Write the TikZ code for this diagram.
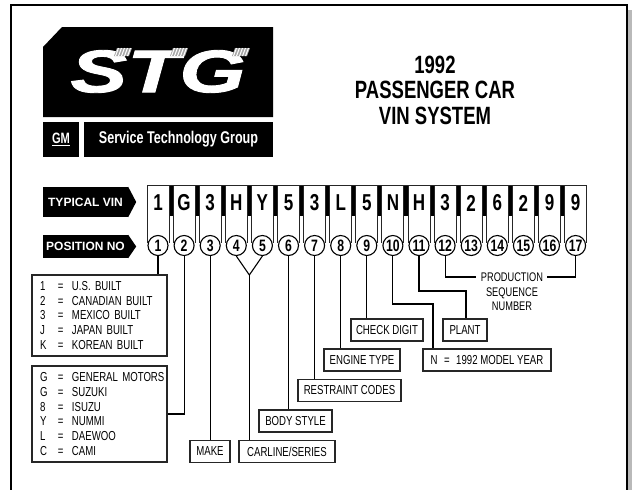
\documentclass[tikz,border=0pt]{standalone}
\usepackage{fontspec}
\setmainfont{Liberation Sans}
\newfontfamily\cond{Liberation Sans}[FakeStretch=0.74]
\newfontfamily\stgfont{Liberation Sans}[FakeStretch=1.42,FakeBold=1.5]
\begin{document}
\begin{tikzpicture}[x=1pt,y=-1pt,
  keyline/.style={line width=1pt,black!85},
  conn/.style={line width=1.1pt,black},
  vinchar/.style={inner sep=0pt,font=\cond\bfseries\fontsize{23}{23}\selectfont},
  posc/.style={circle,draw,line width=1.1pt,fill=white,minimum size=20pt,inner sep=0pt,
    font=\cond\bfseries\fontsize{16.5}{16.5}\selectfont},
  lbox/.style={draw,line width=1.2pt,black!85,text=black,inner sep=0pt,minimum height=22pt,
    font=\cond\fontsize{13}{13}\selectfont},
  listbox/.style={draw,line width=1.2pt,black!85,text=black,inner xsep=8pt,inner ysep=0pt,
    text width=119pt,align=left,font=\cond\fontsize{13}{14.8}\selectfont},
  arrlbl/.style={fill=black,text=white,inner sep=0pt,minimum width=85pt,
    font=\bfseries\fontsize{12}{12}\selectfont}
]
\useasboundingbox (0,0) rectangle (635,490);
% frame
\fill[gray!55] (628,10) rectangle (632,490);
\draw[line width=2pt] (11,492) -- (11,5) -- (627,5) -- (627,492);
% logo
\fill (62,27) -- (273,27) -- (273,117) -- (43,117) -- (43,47) -- cycle;
\node[text=white,inner sep=0pt,font=\stgfont\bfseries\itshape\fontsize{60}{60}\selectfont] (stg) at (158,71.5) {STG};
\foreach \sx in {114,170,232}{
  \fill[gray!70] (\sx,56) -- (\sx+15,56) -- (\sx+18,48) -- (\sx+3,48) -- cycle;
  \foreach \k in {1.5,4.5,...,15}{
    \draw[white,line width=1pt] (\sx+\k,56) -- (\sx+\k+3,48);
  }
}
\node[fill=black,text=white,minimum width=36pt,minimum height=35pt,inner sep=0pt,
  font=\cond\bfseries\fontsize{15}{15}\selectfont] (gm) at (61,139.5) {\underline{GM}};
\node[fill=black,text=white,minimum width=189pt,minimum height=35pt,inner sep=0pt,
  font=\cond\bfseries\fontsize{17}{17}\selectfont] (stgname) at (178.5,139.5) {Service Technology Group};
% title
\node[align=center,inner sep=0pt,font=\cond\bfseries\fontsize{25}{25.5}\selectfont] (title) at (435,90)
  {1992\\PASSENGER CAR\\VIN SYSTEM};
% left arrow labels
\node[arrlbl,minimum height=30pt] (typ) at (85.5,202) {TYPICAL VIN};
\fill (typ.north east) -- ([xshift=8pt]typ.east) -- (typ.south east) -- cycle;
\node[arrlbl,minimum height=23pt] (pos) at (85.5,246.5) {POSITION NO};
\fill (pos.north east) -- ([xshift=8pt]pos.east) -- (pos.south east) -- cycle;
% VIN keys
\foreach \i in {1,...,16}{
  \pgfmathsetmacro\cx{158+(\i-1)*26.1}
  \fill (\cx+10.5,185) rectangle (\cx+15.6,216);
}
\foreach \ch [count=\i] in {1,G,3,H,Y,5,3,L,5,N,H,3,2,6,2,9,9}{
  \pgfmathsetmacro\cx{158+(\i-1)*26.1}
  \draw[keyline] (\cx-11,185) -- (\cx-11,243) (\cx+11,185) -- (\cx+11,243);
  \node[vinchar] (v\i) at (\cx,203) {\ch};
  \node[posc] (c\i) at (\cx,245.5) {\i};
}
\draw[keyline] (147,185) -- (587,185);
% boxes
\node[listbox,minimum height=81pt] (b1) at (99.5,315.5)
  {\mbox{\makebox[18pt][l]{1}\makebox[14pt][l]{=}U.S. BUILT}\\
   \mbox{\makebox[18pt][l]{2}\makebox[14pt][l]{=}CANADIAN BUILT}\\
   \mbox{\makebox[18pt][l]{3}\makebox[14pt][l]{=}MEXICO BUILT}\\
   \mbox{\makebox[18pt][l]{J}\makebox[14pt][l]{=}JAPAN BUILT}\\
   \mbox{\makebox[18pt][l]{K}\makebox[14pt][l]{=}KOREAN BUILT}};
\node[listbox,minimum height=96pt] (b2) at (99.5,414)
  {\mbox{\makebox[18pt][l]{G}\makebox[14pt][l]{=}GENERAL MOTORS}\\
   \mbox{\makebox[18pt][l]{G}\makebox[14pt][l]{=}SUZUKI}\\
   \mbox{\makebox[18pt][l]{8}\makebox[14pt][l]{=}ISUZU}\\
   \mbox{\makebox[18pt][l]{Y}\makebox[14pt][l]{=}NUMMI}\\
   \mbox{\makebox[18pt][l]{L}\makebox[14pt][l]{=}DAEWOO}\\
   \mbox{\makebox[18pt][l]{C}\makebox[14pt][l]{=}CAMI}};
\node[lbox,minimum width=40pt] (make) at (210,451.5) {MAKE};
\node[lbox,minimum width=96pt] (carline) at (287,451.5) {CARLINE/SERIES};
\node[lbox,minimum width=73pt] (body) at (295.5,421) {BODY STYLE};
\node[lbox,minimum width=103pt] (restraint) at (349.5,390.5) {RESTRAINT CODES};
\node[lbox,minimum width=76pt] (engine) at (362,360) {ENGINE TYPE};
\node[lbox,minimum width=72pt] (check) at (387,330) {CHECK DIGIT};
\node[lbox,minimum width=128pt] (year) at (487,360) {N\enspace=\enspace1992 MODEL YEAR};
\node[lbox,minimum width=44pt] (plant) at (465,330) {PLANT};
\node[align=center,inner sep=0pt,font=\cond\fontsize{12.5}{14.5}\selectfont] (prod) at (512,292)
  {PRODUCTION\\SEQUENCE\\NUMBER};
% connectors
\coordinate (apex) at (249.35,275);
\coordinate (k10) at (433,304);
\coordinate (k11) at (466,291);
\coordinate (pl) at (476,277);
\coordinate (pr) at (547,277);
\draw[conn] (c1.south) -- (c1.south |- b1.north);
\draw[conn] (c2.south) |- (b2.east);
\draw[conn] (c3.south) -- (c3.south |- make.north);
\draw[conn] (c4.south) -- (apex) -- (c5.south);
\draw[conn] (apex) -- (apex |- carline.north);
\draw[conn] (c6.south) -- (c6.south |- body.north);
\draw[conn] (c7.south) -- (c7.south |- restraint.north);
\draw[conn] (c8.south) -- (c8.south |- engine.north);
\draw[conn] (c9.south) -- (c9.south |- check.north);
\draw[conn] (c10.south) |- (k10) -- (k10 |- year.north);
\draw[conn] (c11.south) |- (k11) -- (k11 |- plant.north);
\draw[conn] (c12.south) |- (pl);
\draw[conn] (c17.south) |- (pr);
\end{tikzpicture}
\end{document}
